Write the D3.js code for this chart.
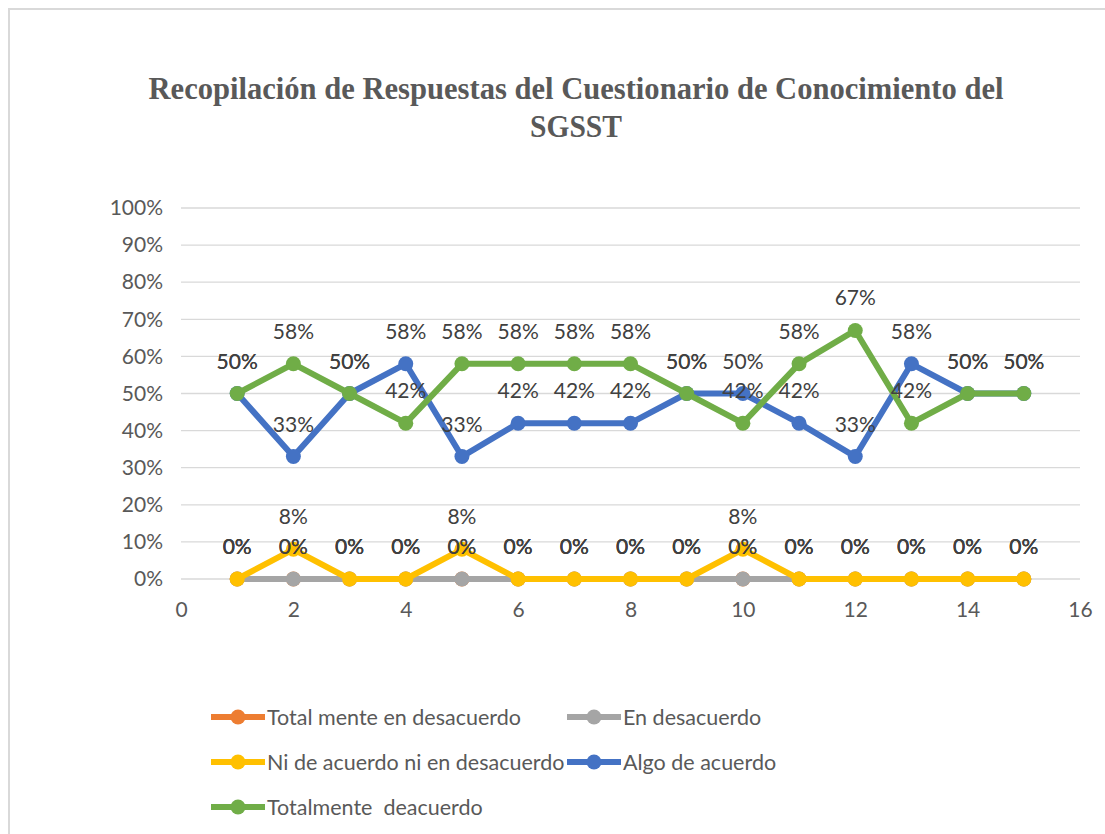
<!DOCTYPE html>
<html>
<head>
<meta charset="utf-8">
<script src="https://cdn.jsdelivr.net/npm/d3@7"></script>
<style>
  body { margin: 0; background: #fff; }
  svg { display: block; }
</style>
</head>
<body>
<svg id="chart" width="1105" height="834"></svg>
<script>
// Data
const questions = d3.range(1, 16);
const seriesNames = [
  "Total mente en desacuerdo",
  "En desacuerdo",
  "Ni de acuerdo ni en desacuerdo",
  "Algo de acuerdo",
  "Totalmente  deacuerdo",
];
const seriesColors = ["#ED7D31", "#A5A5A5", "#FFC000", "#4472C4", "#70AD47"];
const totalDesacuerdo = [0, 0, 0, 0, 0, 0, 0, 0, 0, 0, 0, 0, 0, 0, 0];
const enDesacuerdo    = [0, 0, 0, 0, 0, 0, 0, 0, 0, 0, 0, 0, 0, 0, 0];
const niAcuerdo       = [0, 0.08, 0, 0, 0.08, 0, 0, 0, 0, 0.08, 0, 0, 0, 0, 0];
const algoAcuerdo     = [0.5, 0.33, 0.5, 0.58, 0.33, 0.42, 0.42, 0.42, 0.5, 0.5, 0.42, 0.33, 0.58, 0.5, 0.5];
const totalAcuerdo    = [0.5, 0.58, 0.5, 0.42, 0.58, 0.58, 0.58, 0.58, 0.5, 0.42, 0.58, 0.67, 0.42, 0.5, 0.5];
const seriesValues = [totalDesacuerdo, enDesacuerdo, niAcuerdo, algoAcuerdo, totalAcuerdo];
const yTicks = d3.range(0, 1.01, 0.1);
const xTicks = d3.range(0, 17, 2);

const svg = d3.select("#chart");
const labelFont = "Lato, 'Liberation Sans', sans-serif";

// chart frame (right / bottom edges fall outside the picture)
svg.append("rect")
  .attr("x", 9).attr("y", 9).attr("width", 1110).attr("height", 840)
  .attr("fill", "#fff").attr("stroke", "#D9D9D9").attr("stroke-width", 2);

// Title (narrow, tall serif like the original)
const title = svg.append("g")
  .attr("font-family", "'Liberation Serif', 'Times New Roman', serif")
  .attr("font-weight", "bold").attr("fill", "#595959").attr("font-size", 31)
  .attr("text-anchor", "middle");
title.append("text").attr("x", 576).attr("y", 99)
  .attr("textLength", 855).attr("lengthAdjust", "spacingAndGlyphs")
  .text("Recopilación de Respuestas del Cuestionario de Conocimiento del");
title.append("text").attr("x", 576).attr("y", 137)
  .attr("textLength", 92).attr("lengthAdjust", "spacingAndGlyphs")
  .text("SGSST");

const x = d3.scaleLinear().domain([0, 16]).range([181, 1080]);
const y = d3.scaleLinear().domain([0, 1]).range([579, 208]);

// gridlines
svg.append("g")
  .selectAll("line")
  .data(yTicks)
  .join("line")
  .attr("x1", x(0)).attr("x2", x(16))
  .attr("y1", (d) => y(d)).attr("y2", (d) => y(d))
  .attr("stroke", "#D9D9D9").attr("stroke-width", 1.3);

// axes (tick labels only)
const yAxis = svg.append("g")
  .attr("transform", `translate(${x(0) - 18},0)`)
  .call(d3.axisLeft(y).tickValues(yTicks).tickFormat(d3.format(".0%")).tickSize(0).tickPadding(0));
const xAxis = svg.append("g")
  .attr("transform", `translate(0,${y(0) + 26})`)
  .call(d3.axisBottom(x).tickValues(xTicks).tickFormat(d3.format("d")).tickSize(0).tickPadding(0));
[yAxis, xAxis].forEach((a) => {
  a.select(".domain").remove();
  a.selectAll("text").attr("font-family", labelFont).attr("font-size", 21).attr("fill", "#595959");
});
xAxis.selectAll("text").attr("dy", "0.55em");

// lines + markers
const line = d3.line().x((d, i) => x(questions[i])).y((d) => y(d));
seriesValues.forEach((vals, s) => {
  const g = svg.append("g");
  g.append("path")
    .attr("d", line(vals))
    .attr("fill", "none")
    .attr("stroke", seriesColors[s])
    .attr("stroke-width", 6)
    .attr("stroke-linejoin", "round");
  g.selectAll("circle")
    .data(vals)
    .join("circle")
    .attr("cx", (d, i) => x(questions[i]))
    .attr("cy", (d) => y(d))
    .attr("r", 7.5)
    .attr("fill", seriesColors[s]);
});

// data labels, drawn above every point of every series
seriesValues.forEach((vals) => {
  svg.append("g")
    .selectAll("text")
    .data(vals)
    .join("text")
    .attr("x", (d, i) => x(questions[i]))
    .attr("y", (d) => y(d) - 25)
    .attr("text-anchor", "middle")
    .attr("font-family", labelFont).attr("font-size", 21)
    .attr("fill", "#404040")
    .text((d) => d3.format(".0%")(d));
});

// legend
const legendPos = [[211, 717], [567, 717], [211, 762], [567, 762], [211, 807]];
const legend = svg.append("g")
  .selectAll("g")
  .data(seriesNames)
  .join("g")
  .attr("transform", (d, i) => `translate(${legendPos[i][0]},${legendPos[i][1]})`);
legend.append("line")
  .attr("x1", 0).attr("x2", 54)
  .attr("stroke", (d, i) => seriesColors[i]).attr("stroke-width", 6);
legend.append("circle")
  .attr("cx", 27).attr("r", 7.5)
  .attr("fill", (d, i) => seriesColors[i]);
legend.append("text")
  .attr("x", 56).attr("y", 7.5)
  .attr("font-family", labelFont).attr("font-size", 21.5)
  .attr("fill", "#595959")
  .style("white-space", "pre")
  .text((d) => d);
</script>
</body>
</html>
